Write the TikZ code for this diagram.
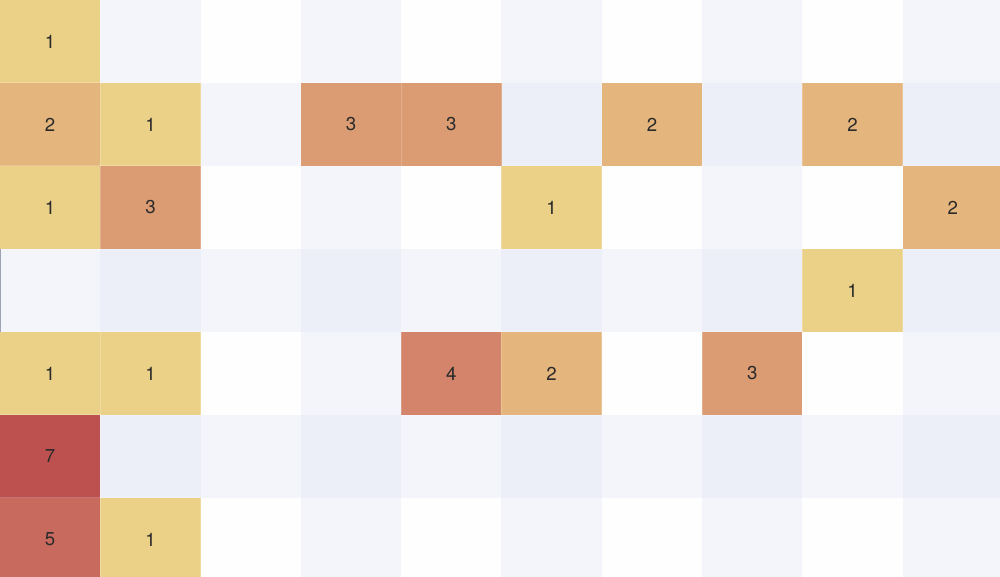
\documentclass[tikz,border=0pt]{standalone}
\usepackage{fontspec}
\setmainfont{TeX Gyre Heros}
\usepackage{tikz}

\definecolor{bgZero}{HTML}{FEFEFE}
\definecolor{bgOne}{HTML}{F4F5FA}
\definecolor{bgTwo}{HTML}{ECEFF7}
\definecolor{heatOne}{HTML}{EBD188}
\definecolor{heatTwo}{HTML}{E4B67E}
\definecolor{heatThree}{HTML}{DB9C73}
\definecolor{heatFour}{HTML}{D3846A}
\definecolor{heatFive}{HTML}{C96A5F}
\definecolor{heatSeven}{HTML}{BD5150}
\definecolor{labelGray}{HTML}{2A2A2A}
\definecolor{edgeGray}{HTML}{9DA2B5}

\begin{document}
\begin{tikzpicture}
      [x=0.75pt,y=-0.75pt,
       cellBox/.style={rectangle,minimum width=75.3pt,minimum height=62.3pt,
         inner sep=0pt,outer sep=0pt},
       heatBox/.style={cellBox,draw=white,draw opacity=0.2,line width=0.75pt,
         text=labelGray,font=\fontsize{14}{16}\selectfont}]
      \useasboundingbox (0,0) rectangle (1000,576);
      \clip (0,0) rectangle (1000,576);

      % empty cells, shaded by row and column
      \foreach \r in {0,...,6}
      \foreach \c in {0,...,9}
      {
        \pgfmathtruncatemacro{\shade}{mod(\r,2)+mod(\c,2)}
        \ifcase\shade \def\bgName{bgZero}\or \def\bgName{bgOne}\else \def\bgName{bgTwo}\fi
        \node[cellBox,fill=\bgName] (bg-\r-\c) at ({(\c+0.5)*100.3},{(\r+0.5)*83}) {};
      }

      % cells with counts
      \foreach \r/\c/\v/\col in {0/0/1/heatOne,1/0/2/heatTwo,1/1/1/heatOne,1/3/3/heatThree,
        1/4/3/heatThree,1/6/2/heatTwo,1/8/2/heatTwo,2/0/1/heatOne,2/1/3/heatThree,
        2/5/1/heatOne,2/9/2/heatTwo,3/8/1/heatOne,4/0/1/heatOne,4/1/1/heatOne,
        4/4/4/heatFour,4/5/2/heatTwo,4/7/3/heatThree,5/0/7/heatSeven,6/0/5/heatFive,
        6/1/1/heatOne}
      \node[heatBox,fill=\col] (cell-\r-\c) at ({(\c+0.5)*100.3},{(\r+0.5)*83}) {\v};

      \draw[edgeGray,line width=1.5pt] (bg-3-0.north west) -- (bg-3-0.south west);
    \end{tikzpicture}
\end{document}
